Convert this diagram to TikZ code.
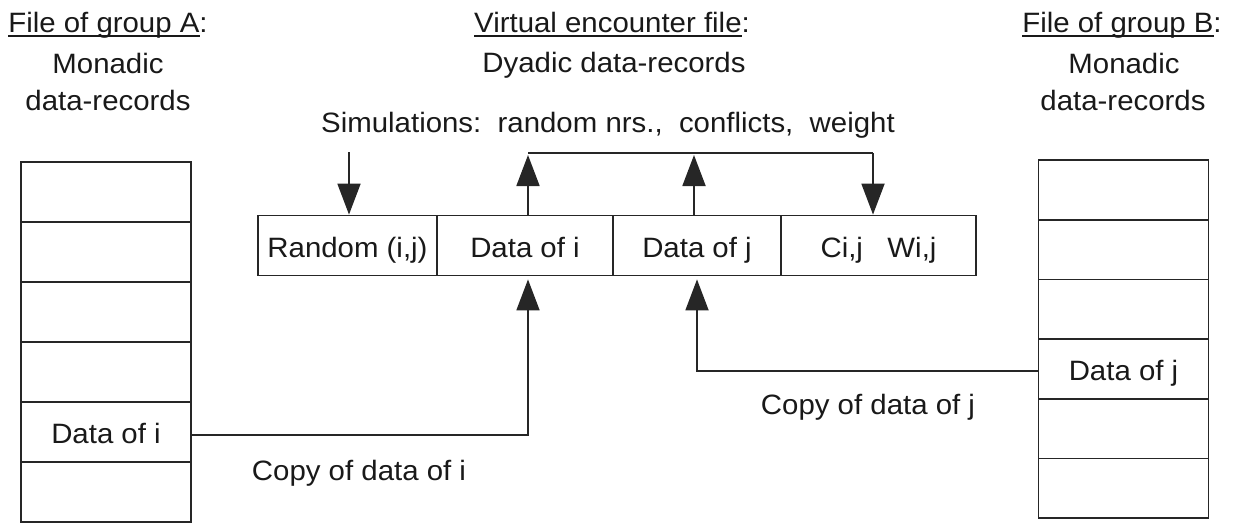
\documentclass[tikz,border=0pt]{standalone}
\usepackage{fontspec}
\setmainfont{Liberation Sans}[FakeStretch=1.05]
\usetikzlibrary{arrows.meta}
\newcommand\titleul[1]{\setbox0\hbox{#1}\rlap{\rule[-4.5pt]{\wd0}{1.8pt}}\box0}
\begin{document}
\begin{tikzpicture}[x=1pt,y=-1pt,
  every node/.style={font=\fontsize{28}{34}\selectfont, text=black!90},
  txt/.style={anchor=base, inner sep=0pt},
  cell/.style={draw=black!85, line width=1.8pt, minimum height=60pt, inner sep=0pt,
    text height=25pt, text depth=2pt},
  colcell/.style={cell, minimum width=170pt},
  link/.style={draw=black!85, line width=1.8pt},
  tip/.style={-{Triangle[width=23pt,length=31pt]}}
]
\useasboundingbox (0,0) rectangle (1234,522);

% headings
\node[txt] (ha) at (108,32) {\titleul{File of group A}:};
\node[txt] (ha1) at (108,73) {Monadic};
\node[txt] (ha2) at (108,110) {data-records};
\node[txt] (hv) at (612,32) {\titleul{Virtual encounter file}:};
\node[txt] (hv1) at (614,72) {Dyadic data-records};
\node[txt] (hs) at (608,132) {Simulations:\ \ random nrs.,\ \ conflicts,\ \ weight};
\node[txt] (hb) at (1122,32) {\titleul{File of group B}:};
\node[txt] (hb1) at (1124,73) {Monadic};
\node[txt] (hb2) at (1123,110) {data-records};

% file of group A
\foreach \i in {1,...,6}
  \node[colcell] (a\i) at (106,{162+60*(\i-0.5)}) {};
\node[cell, draw=none] at (a5.center) {Data of i};

% file of group B
\foreach \i in {1,...,6}
  \node[colcell, minimum height=59.7pt] (b\i) at (1123.5,{160+59.7*(\i-0.5)}) {};
\node[cell, draw=none] at (b4.center) {Data of j};

% dyadic record
\node[cell, minimum width=179pt] (r1) at (347.5,245.5) {Random (i,j)};
\node[cell, minimum width=176pt] (r2) at (525,245.5) {Data of i};
\node[cell, minimum width=168pt] (r3) at (697,245.5) {Data of j};
\node[cell, minimum width=195pt] (r4) at (878.5,245.5) {Ci,j\ \ \ Wi,j};

% simulation links
\coordinate (sim) at (349,152);
\coordinate (busl) at (528,153);
\coordinate (busm) at (694,153);
\coordinate (busr) at (873,153);
\draw[link, tip] (sim) -- (sim |- r1.north);
\draw[link, tip] (busl |- r2.north) -- ([yshift=-2pt]busl);
\draw[link, tip] (busm |- r3.north) -- ([yshift=-2pt]busm);
\draw[link] (busl) -- (busr);
\draw[link, tip] (busr) -- (busr |- r4.north);

% copies into the record
\draw[link, tip] ([yshift=-3pt]a5.east) -| ([xshift=3pt,yshift=-3pt]r2.south);
\draw[link, tip] ([yshift=-2pt]b4.west) -| ([yshift=-3pt]r3.south);
\node[txt] (ci) at (359,480) {Copy of data of i};
\node[txt] (cj) at (868,414) {Copy of data of j};
\end{tikzpicture}
\end{document}
